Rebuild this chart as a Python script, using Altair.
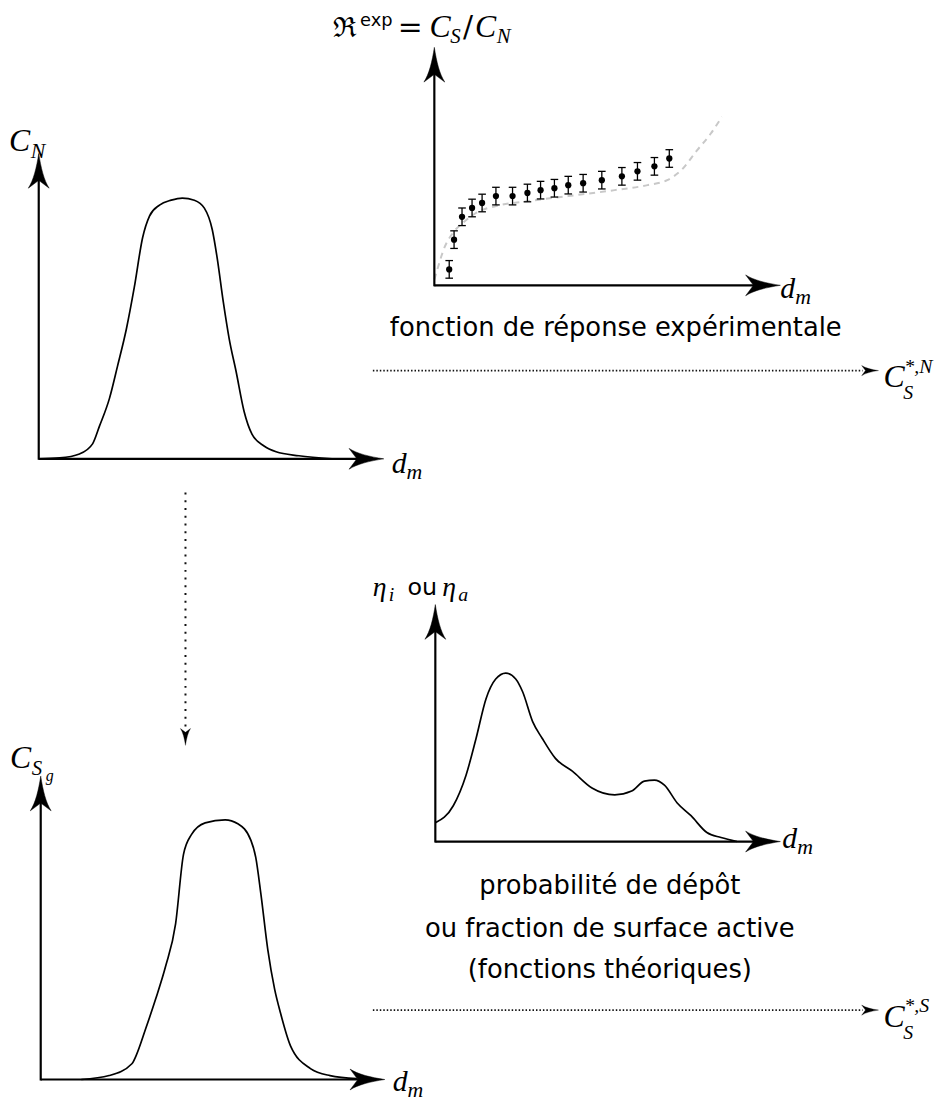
import altair as alt
import pandas as pd

# ---------------- data (local panel units: d_m 0..100 along the axis, ordinate 0..100) -------------
# C_N size distribution (top-left)
cn_d = [0, 6.1, 11.8, 15.6, 17.6, 20.5, 22.8, 25.4, 27.7, 30.1, 32.1, 35.0, 38.4, 41.6,
        45.1, 48.0, 50.3, 51.7, 53.5, 55.2, 57.2, 59.5, 61.8, 65.3, 68.8, 75.4, 85.0]
cn_v = [0, 0.3, 1.6, 4.9, 10.7, 19.8, 30.2, 42.5, 56.2, 72.4, 79.5, 83.1, 84.7, 85.4,
        84.7, 82.1, 75.0, 65.9, 51.3, 39.3, 28.6, 15.6, 8.1, 4.2, 2.3, 1.0, 0]

# C_Sg size distribution (bottom-left)
csg_d = [11.8, 19.9, 26.5, 27.7, 30.5, 33.4, 36.3, 39.2, 41.5, 43.8, 47.8, 53.6, 57.3,
         61.1, 62.5, 64.0, 66.0, 68.0, 69.7, 72.6, 78.4, 84.1, 91.9]
csg_v = [0, 1.3, 5.2, 7.8, 16.7, 26.5, 37.3, 51.3, 74.2, 80.7, 84.6, 85.6, 84.3,
         78.8, 73.2, 61.1, 42.8, 29.7, 21.9, 11.1, 3.6, 1.3, 0.3]

# experimental response function R^exp (top-right): points with error bars
r_d = [4.3, 5.7, 8.0, 10.9, 13.8, 17.8, 22.6, 26.9, 30.7, 34.7, 38.7, 43.0, 48.4,
       54.2, 58.7, 63.6, 67.9]
r_v = [6.7, 19.2, 28.8, 32.5, 34.6, 37.5, 37.5, 38.8, 40.0, 40.8, 42.1, 42.9, 44.2,
       45.8, 47.9, 50.0, 53.3]
r_err = [3.7] * 17

# theoretical (dashed grey) curve behind the points
fit_d = [0, 0.6, 2.9, 5.4, 8.3, 12.0, 17.8, 27.2, 38.7, 52.1, 61.6, 67.3, 71.3, 75.9, 79.9, 83.1]
fit_v = [2.5, 5.4, 15.8, 22.1, 26.3, 30.4, 33.3, 35.4, 37.5, 40.0, 42.1, 44.2, 48.3, 56.7, 63.8, 70.8]

# deposition probability eta (bottom-right)
eta_d = [0, 5.2, 8.9, 11.8, 14.7, 17.5, 20.4, 23.3, 25.3, 28.2, 31.0, 34.8, 39.7, 45.4,
         52.0, 56.9, 60.6, 63.5, 66.4, 70.1, 74.1, 78.7, 82.8, 87.4]
eta_v = [7.9, 15.1, 28.0, 43.5, 60.3, 68.6, 71.1, 68.6, 63.2, 50.6, 43.5, 35.1, 29.7, 22.6,
         19.7, 21.3, 25.5, 25.9, 23.8, 16.3, 10.9, 3.8, 1.7, 0]

caption_top = ["fonction de réponse expérimentale"]
caption_bottom = ["probabilité de dépôt", "ou fraction de surface active", "(fonctions théoriques)"]

# ---------------- layout (page pixels) -------------------------------------------------------------
W, H = 948, 1104
FR = {  # origin x, origin y, x-axis length, y-axis length
    "cn": (39, 458, 348, 308),
    "r": (438, 283, 349, 240),
    "eta": (439, 844, 348, 239),
    "csg": (41, 1084, 347, 306),
}


def place(panel, d, v):
    ox, oy, lx, ly = FR[panel]
    return ox + d / 100.0 * lx, oy - v / 100.0 * ly


rows = []
for name, ds, vs in [("cn", cn_d, cn_v), ("csg", csg_d, csg_v), ("eta", eta_d, eta_v)]:
    for i, (d, v) in enumerate(zip(ds, vs)):
        X, Y = place(name, d, v)
        rows.append({"s": name, "i": i, "X": X, "Y": Y})
curves = pd.DataFrame(rows)

fit = pd.DataFrame([{"i": i, "X": place("r", d, v)[0], "Y": place("r", d, v)[1]}
                    for i, (d, v) in enumerate(zip(fit_d, fit_v))])

pts, bars = [], []
cap = 1.1
for d, v, e in zip(r_d, r_v, r_err):
    X, Y = place("r", d, v)
    pts.append({"X": X, "Y": Y})
    x0, y0 = place("r", d, v - e)
    x1, y1 = place("r", d, v + e)
    bars.append({"X": x0, "Y": y0, "X2": x1, "Y2": y1})
    for vv in (v - e, v + e):
        a = place("r", d - cap, vv)
        b = place("r", d + cap, vv)
        bars.append({"X": a[0], "Y": a[1], "X2": b[0], "Y2": b[1]})
pts = pd.DataFrame(pts)
bars = pd.DataFrame(bars)

axes_rows, heads = [], []
for name, (ox, oy, lx, ly) in FR.items():
    axes_rows.append({"X": ox, "Y": oy, "X2": ox + lx - 15, "Y2": oy})
    axes_rows.append({"X": ox, "Y": oy + 1, "X2": ox, "Y2": oy - ly + 15})
    heads.append({"X": ox + lx, "Y": oy, "ang": 90})
    heads.append({"X": ox, "Y": oy - ly, "ang": 0})
axes_df = pd.DataFrame(axes_rows)
heads_df = pd.DataFrame(heads)

# dotted arrows
dots = pd.DataFrame([
    {"X": 376, "Y": 369, "X2": 870, "Y2": 369},
    {"X": 376, "Y": 1014, "X2": 870, "Y2": 1014},
])
vdots = pd.DataFrame([{"X": 187, "Y": 492, "X2": 187, "Y2": 730}])
small_heads = pd.DataFrame([
    {"X": 886, "Y": 369, "ang": 90},
    {"X": 886, "Y": 1014, "ang": 90},
    {"X": 187, "Y": 747, "ang": 180},
])

ARROW = "M0,0 C0.12,0.8 0.3,1.55 0.6,2 L0,1.55 L-0.6,2 C-0.3,1.55 -0.12,0.8 0,0 Z"

xs = alt.Scale(domain=[8, W], range=[0, W - 8])
ys = alt.Scale(domain=[8, H], range=[0, H - 8])


def XY(x="X:Q", y="Y:Q"):
    return dict(x=alt.X(x, scale=xs, axis=None), y=alt.Y(y, scale=ys, axis=None))


# math labels: text, x(left), baseline y, size
math_it = pd.DataFrame([
    ("C", 9, 148, 32), ("N", 31, 155, 22),
    ("d", 395, 472, 30), ("m", 410, 478, 22),
    ("C", 433, 33, 32), ("S", 454, 39, 21), ("C", 479, 33, 32), ("N", 501, 39, 21),
    ("d", 787, 296, 30), ("m", 802, 302, 22),
    ("η", 376, 596, 28), ("i", 392, 601, 20), ("η", 446, 596, 28), ("a", 462, 601, 20),
    ("d", 789, 851, 30), ("m", 804, 857, 22),
    ("C", 10, 770, 32), ("S", 32, 777, 21), ("g", 46, 783, 16),
    ("d", 396, 1096, 30), ("m", 411, 1102, 22),
    ("C", 891, 386, 32), ("*,N", 912, 371, 20), ("S", 911, 398, 20),
    ("C", 891, 1031, 32), ("*,S", 912, 1016, 20), ("S", 911, 1043, 20),
], columns=["t", "X", "Y", "sz"])
math_up = pd.DataFrame([
    ("ℜ", 336, 33, 28), ("=", 401, 33, 30), ("/", 467, 33, 30),
], columns=["t", "X", "Y", "sz"])
sans_left = pd.DataFrame([
    ("exp", 363, 21, 18), ("ou", 411, 595, 24),
], columns=["t", "X", "Y", "sz"])
sans_center = pd.DataFrame(
    [(caption_top[0], 621, 334)] +
    [(t, 615, y) for t, y in zip(caption_bottom, [897, 940, 982])],
    columns=["t", "X", "Y"])

layers = [
    alt.Chart(fit).mark_line(stroke="#c8c8c8", strokeWidth=2, strokeDash=[6, 5],
                             interpolate="monotone").encode(**XY(), order="i:Q"),
    alt.Chart(curves).mark_line(stroke="black", strokeWidth=1.7, interpolate="monotone")
       .encode(**XY(), detail="s:N", order="i:Q"),
    alt.Chart(axes_df).mark_rule(stroke="black", strokeWidth=2.2)
       .encode(**XY(), x2="X2:Q", y2="Y2:Q"),
    alt.Chart(heads_df).mark_point(shape=ARROW, filled=True, fill="black", stroke="black",
                                   strokeWidth=0.5, size=1225, opacity=1)
       .encode(**XY(), angle=alt.Angle("ang:Q", scale=None)),
    alt.Chart(bars).mark_rule(stroke="black", strokeWidth=1.3)
       .encode(**XY(), x2="X2:Q", y2="Y2:Q"),
    alt.Chart(pts).mark_circle(color="black", size=40, opacity=1).encode(**XY()),
    alt.Chart(dots).mark_rule(stroke="#111111", strokeWidth=1.6, strokeDash=[1.5, 2])
       .encode(**XY(), x2="X2:Q", y2="Y2:Q"),
    alt.Chart(vdots).mark_rule(stroke="#111111", strokeWidth=2, strokeDash=[2, 5.8])
       .encode(**XY(), x2="X2:Q", y2="Y2:Q"),
    alt.Chart(small_heads).mark_point(shape=ARROW, filled=True, fill="black", stroke="black",
                                      strokeWidth=0.3, size=289, opacity=1)
       .encode(**XY(), angle=alt.Angle("ang:Q", scale=None)),
    alt.Chart(math_it).mark_text(font="Liberation Serif", fontStyle="italic", align="left",
                                 baseline="alphabetic", color="black")
       .encode(**XY(), text="t:N", size=alt.Size("sz:Q", scale=None)),
    alt.Chart(math_up).mark_text(font="DejaVu Serif", align="left", baseline="alphabetic",
                                 color="black")
       .encode(**XY(), text="t:N", size=alt.Size("sz:Q", scale=None)),
    alt.Chart(sans_left).mark_text(font="DejaVu Sans", align="left", baseline="alphabetic",
                                   color="black")
       .encode(**XY(), text="t:N", size=alt.Size("sz:Q", scale=None)),
    alt.Chart(sans_center).mark_text(font="DejaVu Sans", fontSize=26, align="center",
                                     baseline="alphabetic", color="black")
       .encode(**XY(), text="t:N"),
]

chart = alt.layer(*layers).properties(
    width=W - 8, height=H - 8, padding=0, autosize=alt.AutoSizeParams(type="none")
).configure_view(stroke=None)

chart.save("out.html", embed_options={"renderer": "svg", "actions": False})
